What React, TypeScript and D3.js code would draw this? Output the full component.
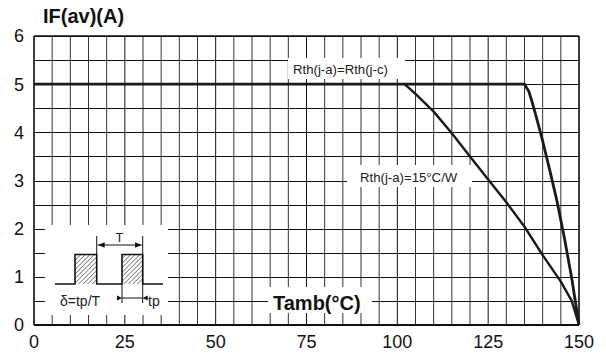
import React from "react";
import * as d3 from "d3";

const W = 606;
const H = 354;
const margin = { left: 34, right: 27, top: 36, bottom: 29 };

const xTicks = [0, 25, 50, 75, 100, 125, 150];
const yTicks = [0, 1, 2, 3, 4, 5, 6];

// Rth(j-a)=Rth(j-c)
const caseTemp = [0, 135, 136.2, 137.2, 138.5, 140, 142, 144, 146, 148, 150];
const caseCurrent = [5, 5, 4.85, 4.6, 4.25, 3.82, 3.2, 2.55, 1.8, 0.97, 0];
// Rth(j-a)=15°C/W
const ambTemp = [102, 105, 110, 115, 120, 125, 130, 135, 140, 145, 148, 150];
const ambCurrent = [5, 4.8, 4.43, 3.98, 3.5, 3.02, 2.55, 2.04, 1.45, 0.9, 0.5, 0];

const labelCase = "Rth(j-a)=Rth(j-c)";
const labelAmb = "Rth(j-a)=15°C/W";
const yTitle = "IF(av)(A)";
const xTitle = "Tamb(°C)";

const FONT = "'Liberation Sans', Arial, Helvetica, sans-serif";

export default function App() {
  const x = d3.scaleLinear().domain([0, 150]).range([margin.left, W - margin.right]);
  const y = d3.scaleLinear().domain([0, 6]).range([H - margin.bottom, margin.top]);

  const vGrid = d3.range(0, 151, 5);
  const hGrid = d3.range(0, 6.01, 0.5);

  const line = d3
    .line<[number, number]>()
    .x((d) => x(d[0]))
    .y((d) => y(d[1]));

  const casePts: [number, number][] = caseTemp.map((t, i) => [t, caseCurrent[i]]);
  const ambPts: [number, number][] = ambTemp.map((t, i) => [t, ambCurrent[i]]);

  const x0 = x(0), x1 = x(150), y0 = y(0), y1 = y(6);

  // inset pictogram geometry (local pixel units)
  const base = 284, top = 254.5;
  const p1a = 75, p1b = 96.7, p2a = 122, p2b = 142.7;

  return (
    <svg
      width={W}
      height={H}
      style={{ position: "absolute", left: 0, top: 0, background: "#fff" }}
      fontFamily={FONT}
    >
      <defs>
        <pattern id="hatch" patternUnits="userSpaceOnUse" width="3.2" height="3.2" patternTransform="rotate(45)">
          <line x1="0" y1="0" x2="0" y2="3.2" stroke="#222" strokeWidth="1" />
        </pattern>
        <marker id="arr" viewBox="0 0 10 10" refX="10" refY="5" markerWidth="7" markerHeight="7" orient="auto-start-reverse">
          <path d="M0,1 L10,5 L0,9 z" fill="#111" />
        </marker>
      </defs>
      <rect x={0} y={0} width={W} height={H} fill="#fff" />

      {/* grid */}
      {vGrid.map((v) => (
        <line key={"v" + v} x1={x(v)} x2={x(v)} y1={y1} y2={y0} stroke={v % 25 === 0 ? "#111" : "#333"} strokeWidth={1} />
      ))}
      {hGrid.map((v) => (
        <line key={"h" + v} x1={x0} x2={x1} y1={Math.round(y(v)) + 0.5} y2={Math.round(y(v)) + 0.5} stroke="#111" strokeWidth={1} />
      ))}

      {/* white label boxes */}
      <rect x={288} y={58} width={117} height={21} fill="#fff" />
      <rect x={347} y={165} width={125} height={22} fill="#fff" />
      <rect x={268} y={287} width={104} height={26} fill="#fff" />
      <rect x={45} y={225} width={123} height={90} fill="#fff" />

      {/* frame */}
      <line x1={x0} x2={x0} y1={y1} y2={y0} stroke="#111" strokeWidth={1.3} />
      <line x1={x1} x2={x1} y1={y1} y2={y0} stroke="#111" strokeWidth={1.3} />
      <line x1={x0} x2={x1} y1={y1} y2={y1} stroke="#111" strokeWidth={1.3} />
      <line x1={x0} x2={x1} y1={y0} y2={y0} stroke="#111" strokeWidth={2.2} />

      {/* curves */}
      <path d={line(ambPts) || ""} fill="none" stroke="#1a1a1a" strokeWidth={2.4} strokeLinejoin="round" />
      <path d={line(casePts) || ""} fill="none" stroke="#1a1a1a" strokeWidth={2.8} strokeLinejoin="round" />

      {/* curve labels */}
      <text x={293} y={74} fontSize={13.2} fill="#222">{labelCase}</text>
      <text x={360} y={182} fontSize={13.2} fill="#222">{labelAmb}</text>

      {/* axis titles */}
      <text x={43} y={23} fontSize={20} fontWeight="bold" fill="#111">{yTitle}</text>
      <text x={273} y={310} fontSize={20} fontWeight="bold" fill="#111">{xTitle}</text>

      {/* tick labels */}
      {yTicks.map((v) => (
        <text key={"yt" + v} x={24} y={y(v)} dy="0.36em" fontSize={18} textAnchor="end" fill="#111">{v}</text>
      ))}
      {xTicks.map((v) => (
        <text key={"xt" + v} x={x(v)} y={348} fontSize={18} textAnchor="middle" fill="#111">{v}</text>
      ))}

      {/* inset pictogram */}
      <g stroke="#111" fill="none" strokeWidth={1.4}>
        <rect x={p1a} y={top} width={p1b - p1a} height={base - top} fill="url(#hatch)" stroke="none" />
        <rect x={p2a} y={top} width={p2b - p2a} height={base - top} fill="url(#hatch)" stroke="none" />
        <path d={`M55,${base} H${p1a} V${top} H${p1b} V${base} H${p2a} V${top} H${p2b} V${base} H163`} strokeWidth={1.6} />
        <line x1={p1b} x2={p1b} y1={236} y2={top} strokeWidth={1} />
        <line x1={p2b} x2={p2b} y1={236} y2={303} strokeWidth={1} />
        <line x1={p2a} x2={p2a} y1={base} y2={303} strokeWidth={1} />
        <line x1={p1b + 1} x2={p2b - 1} y1={245} y2={245} strokeWidth={1} markerStart="url(#arr)" markerEnd="url(#arr)" />
        <line x1={p2a} x2={p2b} y1={298} y2={298} strokeWidth={1} />
        <path d={`M${p2a - 5},295.5 L${p2a},298 L${p2a - 5},300.5 z`} fill="#111" stroke="none" />
        <path d={`M${p2b + 5},295.5 L${p2b},298 L${p2b + 5},300.5 z`} fill="#111" stroke="none" />
      </g>
      <text x={119.5} y={242} fontSize={13} textAnchor="middle" fill="#222">T</text>
      <text x={60} y={306} fontSize={14} fill="#222">δ=tp/T</text>
      <text x={148} y={306} fontSize={14} fill="#222">tp</text>
    </svg>
  );
}
